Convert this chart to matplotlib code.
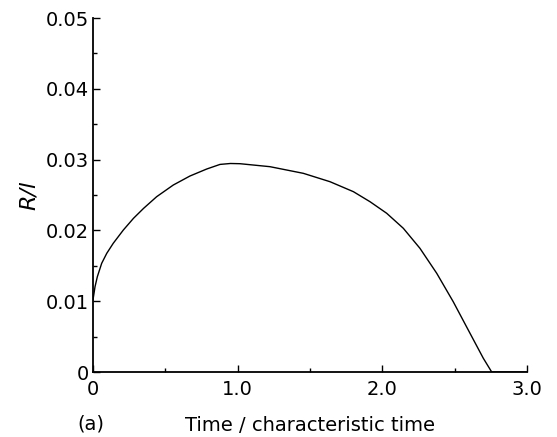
import numpy as np
import matplotlib.pyplot as plt
from matplotlib.ticker import MultipleLocator, FixedLocator

# curve
t = [0.0, 0.014, 0.03, 0.06, 0.095, 0.14, 0.21, 0.28, 0.35, 0.44, 0.555,
     0.67, 0.786, 0.878, 0.95, 1.016, 1.223, 1.454, 1.638, 1.80, 1.915,
     2.03, 2.145, 2.26, 2.376, 2.49, 2.606, 2.698, 2.756, 3.0]
r = [0.0102, 0.01205, 0.01346, 0.01535, 0.01676, 0.01818, 0.02006, 0.02171,
     0.02312, 0.02476, 0.02641, 0.02768, 0.02867, 0.02932, 0.02945, 0.02942,
     0.0290, 0.02806, 0.02688, 0.02547, 0.02405, 0.02242, 0.0203, 0.01747,
     0.01394, 0.00993, 0.00547, 0.00194, 0.0, 0.0]

xticks = [0, 1, 2, 3]
xticklabels = ["0", "1.0", "2.0", "3.0"]
yticks = [0, 0.01, 0.02, 0.03, 0.04, 0.05]
yticklabels = ["0", "0.01", "0.02", "0.03", "0.04", "0.05"]

plt.rcParams['font.family'] = ['DejaVu Sans']

fig = plt.figure(figsize=(5.57, 4.37), dpi=100)
ax = fig.add_axes([93 / 557, 1 - 372 / 437, 434 / 557, 354 / 437])

ax.plot(t, r, color='black', lw=1.0)

ax.set_xlim(0, 3)
ax.set_ylim(0, 0.05)
ax.spines['top'].set_visible(False)
ax.spines['right'].set_visible(False)
for s in ['left', 'bottom']:
    ax.spines[s].set_linewidth(1.3)

ax.xaxis.set_major_locator(FixedLocator(xticks))
ax.set_xticklabels(xticklabels)
ax.xaxis.set_minor_locator(MultipleLocator(0.5))
ax.yaxis.set_major_locator(FixedLocator(yticks))
ax.set_yticklabels(yticklabels)
ax.yaxis.set_minor_locator(MultipleLocator(0.005))
ax.tick_params(which='both', direction='in', labelsize=14, width=1)
ax.tick_params(axis='x', pad=6)
ax.tick_params(axis='y', pad=3)
ax.tick_params(which='major', length=5)
ax.tick_params(which='minor', length=3)

ax.set_xlabel("Time / characteristic time", fontsize=14, labelpad=12)
ax.set_ylabel("R/l", fontsize=16, style='italic', labelpad=5)
fig.text(91 / 557, 1 - 424 / 437, "(a)", fontsize=14, ha='center', va='center')

fig.savefig("out.png", dpi=100)
